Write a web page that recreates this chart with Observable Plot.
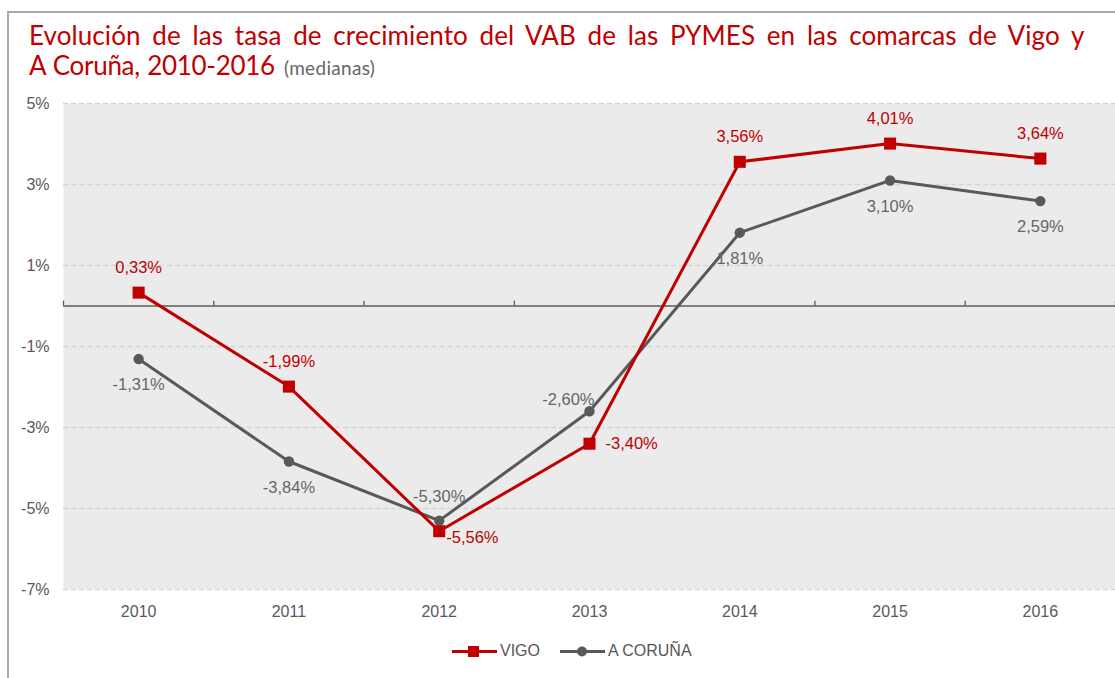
<!DOCTYPE html>
<html>
<head>
<meta charset="utf-8">
<script src="https://cdn.jsdelivr.net/npm/d3@7"></script>
<script src="https://cdn.jsdelivr.net/npm/@observablehq/plot@0.6"></script>
<style>
  html, body { margin: 0; padding: 0; background: #fff; overflow: hidden; }
  #wrap { position: relative; width: 1115px; height: 678px; }
  #frame { position: absolute; left: 7px; top: 11px; width: 1200px; height: 800px;
           border-left: 2px solid #a9a9a9; border-top: 2px solid #a9a9a9; }
  .title { position: absolute; left: 29px; font-family: Lato, "Open Sans", sans-serif; height: 30px;
           font-size: 26px; line-height: 30px; color: #c00000; white-space: nowrap; }
  #t1 { top: 20px; letter-spacing: 0.1px; word-spacing: 4.9px; }
  #t2 { top: 50px; letter-spacing: -0.3px; word-spacing: 1px; }
  .title .sub { color: #666; font-size: 19px; letter-spacing: 0.3px; word-spacing: 0; margin-left: 4px; }
  #chart { position: absolute; left: 0; top: 90px; }
  #legend { position: absolute; left: 452px; top: 640px; font-family: "Liberation Sans", Arial, sans-serif;
            font-size: 16px; color: #555; display: flex; align-items: center; gap: 0; }
  #legend .item { display: flex; align-items: center; margin-right: 20px; }
  #legend svg { margin-right: 3px; }
</style>
</head>
<body>
<div id="wrap">
  <div id="frame"></div>
  <div class="title" id="t1">Evolución de las tasa de crecimiento del VAB de las PYMES en las comarcas de Vigo y</div>
  <div class="title" id="t2">A Coruña, 2010-2016<span class="sub"> (medianas)</span></div>
  <div id="chart"></div>
  <div id="legend"></div>
</div>
<script>
const years = [2010, 2011, 2012, 2013, 2014, 2015, 2016];
const vigo = [0.33, -1.99, -5.56, -3.40, 3.56, 4.01, 3.64];
const coruna = [-1.31, -3.84, -5.30, -2.60, 1.81, 3.10, 2.59];
const yTicks = [5, 3, 1, -1, -3, -5, -7];
const seriesNames = ["VIGO", "A CORUÑA"];

const RED = "#c00000";
const GRAY = "#58595b";
const LABEL_GRAY = "#666666";
const AXIS_GRAY = "#595959";

const vData = years.map((y, i) => ({year: y, value: vigo[i], i}));
const cData = years.map((y, i) => ({year: y, value: coruna[i], i}));
const bounds = [...years.map(y => y - 0.5), years[years.length - 1] + 0.5];
const fmt = v => v.toFixed(2).replace(".", ",") + "%";
const yFmt = d => `${d}%`;

const vAbove = vData.filter(d => ![2012, 2013].includes(d.year));
const cBelow = cData.filter(d => ![2012, 2013].includes(d.year));
const LS = 16.5;
const AS = 16;

const hasAxisMarks = typeof Plot.axisX === "function";
const axisMarks = hasAxisMarks ? [
  Plot.axisX({ticks: years, tickFormat: d => String(d), tickSize: 0, tickPadding: 16, fontSize: AS, fill: AXIS_GRAY, label: null}),
  Plot.axisY({ticks: yTicks, tickFormat: yFmt, tickSize: 0, tickPadding: 14, fontSize: AS, fill: AXIS_GRAY, label: null})
] : [];

const chart = Plot.plot({
  width: 1115,
  height: 532,
  marginLeft: 63,
  marginRight: 0,
  marginTop: 13,
  marginBottom: 33,
  style: {fontFamily: "'Liberation Sans', Arial, sans-serif", fontSize: "16px", color: AXIS_GRAY, background: "transparent", overflow: "visible"},
  x: {domain: [bounds[0], bounds[bounds.length - 1]], ticks: years, tickFormat: d => String(d), tickSize: 0, tickPadding: 16, label: null},
  y: {domain: [-7, 5], ticks: yTicks, tickFormat: yFmt, tickSize: 0, tickPadding: 14, label: null},
  marks: [
    Plot.frame({fill: "#ebebeb", stroke: null}),
    Plot.ruleY(yTicks, {stroke: "#d6d6d6", strokeWidth: 1.3, strokeDasharray: "5,3"}),
    Plot.ruleY([0], {stroke: "#5a5a5a", strokeWidth: 1.6}),
    Plot.ruleX(bounds, {y1: 0, y2: 0.12, stroke: "#5a5a5a", strokeWidth: 1.3}),
    ...axisMarks,
    Plot.line(cData, {x: "year", y: "value", stroke: GRAY, strokeWidth: 3}),
    Plot.line(vData, {x: "year", y: "value", stroke: RED, strokeWidth: 3}),
    Plot.dot(cData, {x: "year", y: "value", r: 5.2, fill: GRAY, stroke: null}),
    Plot.dot(vData, {x: "year", y: "value", symbol: "square", r: 6.8, fill: RED, stroke: null}),
    Plot.text(vAbove, {x: "year", y: "value", text: d => fmt(d.value), dy: -25, fill: RED, fontSize: LS}),
    Plot.text(vData.filter(d => d.year === 2012), {x: "year", y: "value", text: d => fmt(d.value), dx: 7, dy: 7, textAnchor: "start", fill: RED, fontSize: LS}),
    Plot.text(vData.filter(d => d.year === 2013), {x: "year", y: "value", text: d => fmt(d.value), dx: 16, dy: 0, textAnchor: "start", fill: RED, fontSize: LS}),
    Plot.text(cBelow, {x: "year", y: "value", text: d => fmt(d.value), dy: 26, fill: LABEL_GRAY, fontSize: LS}),
    Plot.text(cData.filter(d => d.year === 2012), {x: "year", y: "value", text: d => fmt(d.value), dy: -24, fill: LABEL_GRAY, fontSize: LS}),
    Plot.text(cData.filter(d => d.year === 2013), {x: "year", y: "value", text: d => fmt(d.value), dx: 5, dy: -12, textAnchor: "end", fill: LABEL_GRAY, fontSize: LS})
  ]
});
if (!hasAxisMarks) {
  chart.querySelectorAll('g[aria-label*="axis"] text').forEach(t => t.style.fontSize = AS + "px");
}
document.getElementById("chart").appendChild(chart);

// legend
const legend = document.getElementById("legend");
const colors = [RED, GRAY];
seriesNames.forEach((name, k) => {
  const item = document.createElement("div");
  item.className = "item";
  const marker = k === 0
    ? `<rect x="16" y="6" width="11" height="11" fill="${colors[k]}"/>`
    : `<circle cx="22" cy="11.5" r="5" fill="${colors[k]}"/>`;
  item.innerHTML = `<svg width="45" height="22"><line x1="0" x2="45" y1="11.5" y2="11.5" stroke="${colors[k]}" stroke-width="3"/>${marker}</svg><span>${name}</span>`;
  legend.appendChild(item);
});
</script>
</body>
</html>
